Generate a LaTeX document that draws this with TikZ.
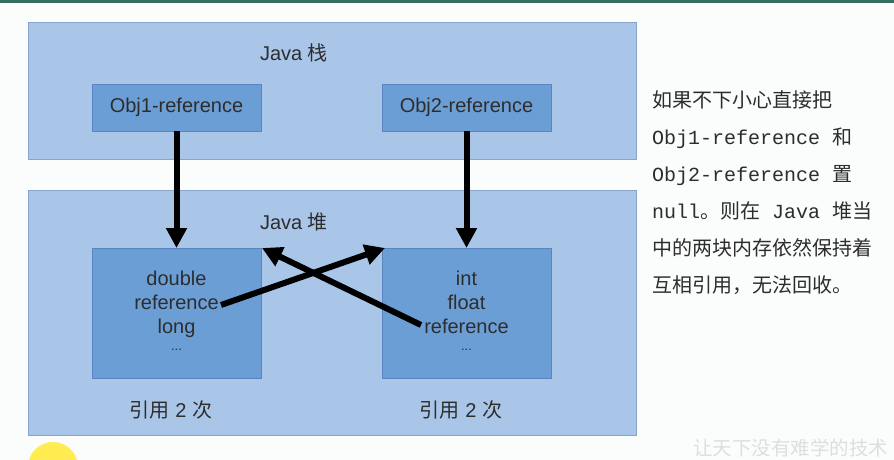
\documentclass[tikz,border=0pt]{standalone}
\usepackage{fontspec}
\setmainfont{Liberation Sans}
\newfontfamily\cjk{Noto Sans CJK SC}
\newfontfamily\mono{Liberation Mono}
\usetikzlibrary{arrows.meta}
\definecolor{bgc}{RGB}{251,253,252}
\definecolor{topbar}{RGB}{52,112,96}
\definecolor{panelfill}{RGB}{169,198,233}
\definecolor{paneledge}{RGB}{135,165,205}
\definecolor{boxfill}{RGB}{108,158,214}
\definecolor{boxedge}{RGB}{88,133,192}
\definecolor{txt}{RGB}{45,45,45}
\definecolor{sidetxt}{RGB}{45,45,45}
\definecolor{wm}{RGB}{222,222,222}
\definecolor{sun}{RGB}{255,236,80}
\tikzset{
  panel/.style={draw=paneledge, line width=1pt, fill=panelfill, inner sep=0pt, outer sep=0pt},
  blk/.style={draw=boxedge, line width=0.8pt, fill=boxfill, inner sep=0pt, outer sep=0pt},
  lbl/.style={text=txt, inner sep=0pt, font=\fontsize{20}{24}\selectfont},
  sub/.style={text=txt, inner sep=0pt, anchor=base, font=\fontsize{20}{24}\selectfont},
  dots/.style={text=txt, inner sep=0pt, anchor=base, font=\fontsize{13}{15}\selectfont},
  side/.style={text=sidetxt, inner sep=0pt, anchor=base west, font=\fontsize{20}{24}\selectfont},
  arr/.style={line width=6pt, -{Triangle[length=20pt,width=20pt]}},
}
\newcommand{\zh}[1]{{\cjk #1}}
\newcommand{\mn}[1]{{\mono #1}}
\begin{document}
\begin{tikzpicture}[x=1pt,y=-1pt]
\useasboundingbox (0,0) rectangle (894,460);
\fill[bgc] (0,0) rectangle (894,460);
\fill[topbar] (0,0) rectangle (894,3.5);
% panels
\node[panel, minimum width=608pt, minimum height=136pt] (stack) at (332,91) {};
\node[panel, minimum width=608pt, minimum height=245pt] (heap) at (332,312.5) {};
\node[lbl] (jstack) at (294,53) {Java \zh{栈}};
\node[lbl] (jheap) at (294,222) {Java \zh{堆}};
% stack boxes
\node[blk, minimum width=169pt, minimum height=47pt] (o1) at (176.5,107.5) {};
\node[blk, minimum width=169pt, minimum height=47pt] (o2) at (466.5,107.5) {};
\node[lbl] (o1t) at (176.5,107.5) {Obj1-reference};
\node[lbl] (o2t) at (466.5,107.5) {Obj2-reference};
% heap boxes
\node[blk, minimum width=169pt, minimum height=130pt] (h1) at (176.5,313) {};
\node[blk, minimum width=169pt, minimum height=130pt] (h2) at (466.5,313) {};
\node[sub] (h1a) at (176.5,285) {double};
\node[sub] (h1b) at (176.5,309) {reference};
\node[sub] (h1c) at (176.5,333) {long};
\node[dots] (h1d) at (176.5,350) {...};
\node[sub] (h2a) at (466.5,285) {int};
\node[sub] (h2b) at (466.5,309) {float};
\node[sub] (h2c) at (466.5,333) {reference};
\node[dots] (h2d) at (466.5,350) {...};
\node[lbl] (c1) at (171,410) {\zh{引用} 2 \zh{次}};
\node[lbl] (c2) at (461,410) {\zh{引用} 2 \zh{次}};
% arrows
\draw[arr] (o1.south) -- (h1.north);
\draw[arr] (o2.south) -- (h2.north);
\coordinate (s1) at (221,305);
\coordinate (s2) at (421,325);
\draw[arr] (s1) -- ([xshift=3pt]h2.north west);
\draw[arr] (s2) -- ([xshift=1pt]h1.north east);
% side text
\node[side] (t1) at (652,107) {\zh{如果不下小心直接把}};
\node[side] (t2) at (652,144) {\mn{Obj1-reference }\zh{和}};
\node[side] (t3) at (652,181) {\mn{Obj2-reference }\zh{置}};
\node[side] (t4) at (652,218) {\mn{null}\zh{。则在}\mn{ Java }\zh{堆当}};
\node[side] (t5) at (652,255) {\zh{中的两块内存依然保持着}};
\node[side] (t6) at (652,292) {\zh{互相引用，无法回收。}};
% decorations
\begin{scope}
\clip (0,0) rectangle (894,460);
\fill[sun] (53,467) circle (25);
\end{scope}
\node[side, text=wm, font=\fontsize{19.5}{22}\selectfont] (wmk) at (693,455) {\zh{让天下没有难学的技术}};
\end{tikzpicture}
\end{document}
